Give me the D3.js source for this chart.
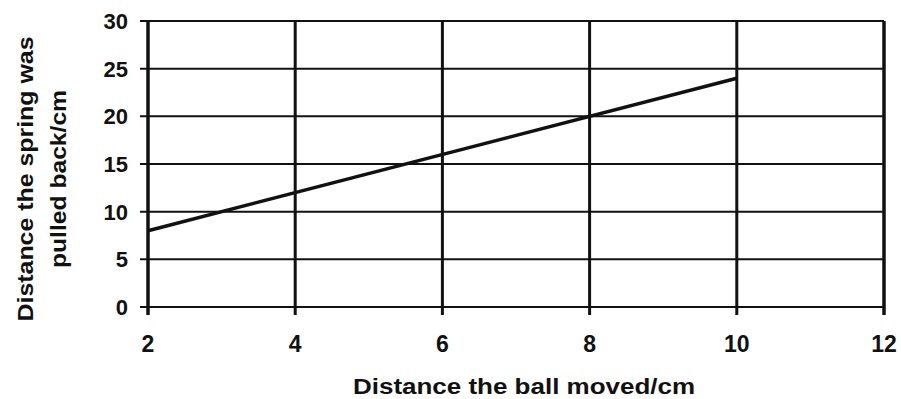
<!DOCTYPE html>
<html>
<head>
<meta charset="utf-8">
<script src="https://cdn.jsdelivr.net/npm/d3@7"></script>
<style>
  html, body { margin: 0; padding: 0; background: #fff; }
  svg { display: block; }
  text { font-family: "Liberation Sans", Arial, sans-serif; fill: #111; }
</style>
</head>
<body>
<svg id="chart" width="901" height="399"></svg>
<script>
// Measured relation between ball travel and spring pull-back
const ballMoved = [2, 10];
const springPulled = [8, 24];
const xTicks = [2, 4, 6, 8, 10, 12];
const yTicks = [0, 5, 10, 15, 20, 25, 30];
const xTitle = "Distance the ball moved/cm";
const yTitleLines = ["Distance the spring was", "pulled back/cm"];

const svg = d3.select("#chart");
const margin = { left: 148, right: 17, top: 21, bottom: 92 };
const W = 901, H = 399;

const x = d3.scaleLinear().domain([2, 12]).range([margin.left, W - margin.right]);
const y = d3.scaleLinear().domain([0, 30]).range([H - margin.bottom, margin.top]);

const ink = "#111";

// horizontal gridlines, extended left as tick marks
svg.append("g").selectAll("line").data(yTicks).join("line")
  .attr("x1", x(2) - 8).attr("x2", x(12))
  .attr("y1", d => y(d)).attr("y2", d => y(d))
  .attr("stroke", ink).attr("stroke-width", 2);

// vertical gridlines, extended downward as tick marks
svg.append("g").selectAll("line").data(xTicks).join("line")
  .attr("x1", d => x(d)).attr("x2", d => x(d))
  .attr("y1", y(30)).attr("y2", y(0) + 8)
  .attr("stroke", ink).attr("stroke-width", d => (d === 2 || d === 12) ? 3.5 : 3);

// y tick labels
svg.append("g").selectAll("text").data(yTicks).join("text")
  .attr("x", x(2) - 20).attr("y", d => y(d))
  .attr("dy", "0.36em")
  .attr("text-anchor", "end")
  .style("font-size", "22px").style("font-weight", "bold")
  .text(d => d);

// x tick labels
svg.append("g").selectAll("text").data(xTicks).join("text")
  .attr("x", d => x(d)).attr("y", y(0) + 45)
  .attr("text-anchor", "middle")
  .style("font-size", "23px").style("font-weight", "bold")
  .text(d => d);

// data line
const pts = ballMoved.map((v, i) => [v, springPulled[i]]);
svg.append("path")
  .datum(pts)
  .attr("d", d3.line().x(d => x(d[0])).y(d => y(d[1])))
  .attr("fill", "none")
  .attr("stroke", ink)
  .attr("stroke-width", 3.5);

// x axis title
svg.append("text")
  .attr("x", 524).attr("y", 394)
  .attr("text-anchor", "middle")
  .attr("textLength", 342).attr("lengthAdjust", "spacingAndGlyphs")
  .style("font-size", "22px").style("font-weight", "bold")
  .text(xTitle);

// y axis title (two rotated lines)
const yLens = [285, 178];
const yt = svg.append("text")
  .attr("transform", "translate(33,179) rotate(-90)")
  .attr("text-anchor", "middle")
  .style("font-size", "22px").style("font-weight", "bold");
yt.selectAll("tspan").data(yTitleLines).join("tspan")
  .attr("x", 0).attr("dy", (d, i) => i === 0 ? 0 : 33)
  .attr("textLength", (d, i) => yLens[i]).attr("lengthAdjust", "spacingAndGlyphs")
  .text(d => d);
</script>
</body>
</html>
